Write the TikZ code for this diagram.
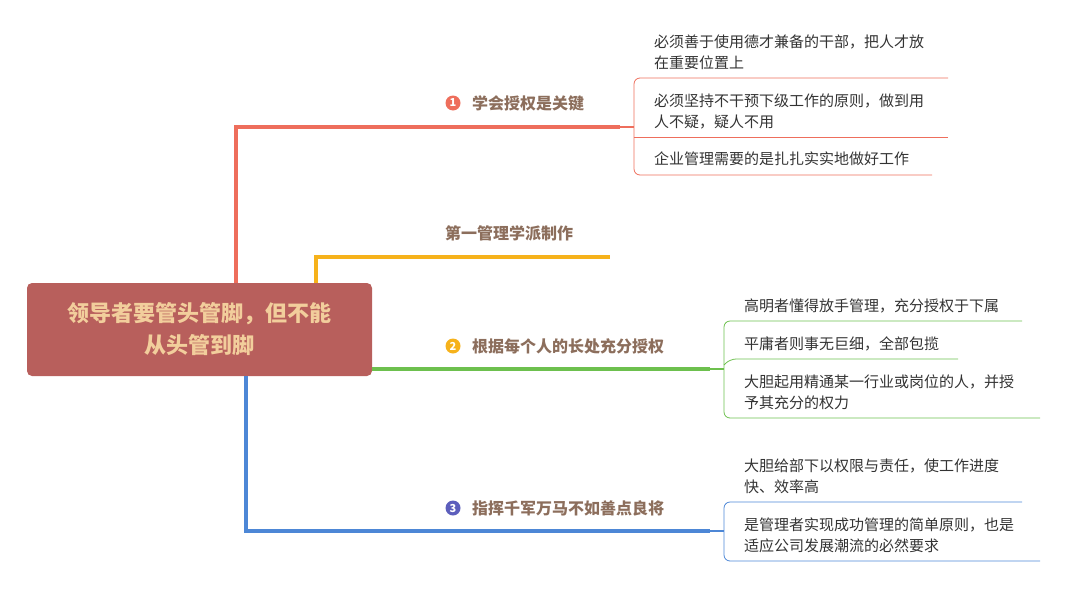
\documentclass[tikz,border=0pt]{standalone}
\usepackage{fontspec}
\setmainfont{Noto Sans CJK SC}
\newfontfamily\cjkb{Noto Sans CJK SC Bold}
\begin{document}
\begin{tikzpicture}[x=1pt,y=-1pt,
  br/.style={line width=4pt},
  lf/.style={line width=0.8pt,rounded corners=6pt},
  lbl/.style={anchor=west,font=\fontsize{16}{18}\selectfont\bfseries,text=brn,inner sep=0pt},
  leaf/.style={anchor=west,font=\fontsize{15}{21}\selectfont,text=txt,inner sep=0pt,align=left},
  num/.style={circle,inner sep=0pt,minimum size=15pt,text=white,font=\fontsize{11}{11}\selectfont\bfseries}]
\definecolor{cred}{HTML}{EE6E5C}
\definecolor{cora}{HTML}{F6B21B}
\definecolor{cgrn}{HTML}{6DC04E}
\definecolor{cblu}{HTML}{4D87D6}
\definecolor{brn}{HTML}{8C6E5C}
\definecolor{txt}{HTML}{333333}
\definecolor{ctr}{HTML}{B85F5C}
\definecolor{ctt}{HTML}{F2CE9C}
\useasboundingbox (0,0) rectangle (1070,597);
% central node
\node[fill=ctr,rounded corners=5pt,minimum width=345pt,minimum height=93pt,
  align=center,text=ctt,font=\fontsize{22}{32}\selectfont\bfseries] (c) at (199.5,329.5)
  {领导者要管头管脚，但不能\\从头管到脚};
% branches
\coordinate (r1) at (620,127);
\coordinate (o1) at (610,257);
\coordinate (g1) at (710,369);
\coordinate (b1) at (710,531);
\draw[br,cred] (236,283) -- (236,127) -- (r1);
\draw[br,cora] (316,283) -- (316,257) -- (o1);
\draw[br,cgrn] (372,369) -- (g1);
\draw[br,cblu] (246,376) -- (246,531) -- (b1);
% labels
\node[num,fill=cred] (n1) at (453,103) {1};
\node[lbl] (l1) at (472,103) {学会授权是关键};
\node[lbl] (l2) at (445,233) {第一管理学派制作};
\node[num,fill=cora] (n2) at (453,346) {2};
\node[lbl] (l3) at (472,346) {根据每个人的长处充分授权};
\node[num,fill=cblu!70!violet] (n3) at (453,508) {3};
\node[lbl] (l4) at (472,508) {指挥千军万马不如善点良将};
% red leaves
\draw[cred,line width=1.5pt] (r1) -- (634,127);
\draw[lf,cred] (948,78) -- (634,78) -- (634,175) -- (932,175);
\draw[cred,line width=0.8pt] (634,137) -- (948,137);
\node[leaf] (a1) at (654,52) {必须善于使用德才兼备的干部，把人才放\\在重要位置上};
\node[leaf] (a2) at (654,111) {必须坚持不干预下级工作的原则，做到用\\人不疑，疑人不用};
\node[leaf] (a3) at (654,159) {企业管理需要的是扎扎实实地做好工作};
% green leaves
\draw[cgrn,line width=1.5pt] (g1) -- (724,369);
\draw[lf,cgrn] (1022,321) -- (724,321) -- (724,418) -- (1040,418);
\draw[lf,cgrn] (958,359) -- (730,359) -- (724,365);
\node[leaf] (g1a) at (744,306) {高明者懂得放手管理，充分授权于下属};
\node[leaf] (g2a) at (744,344) {平庸者则事无巨细，全部包揽};
\node[leaf] (g3a) at (744,392) {大胆起用精通某一行业或岗位的人，并授\\予其充分的权力};
% blue leaves
\draw[cblu,line width=1.5pt] (b1) -- (724,531);
\draw[lf,cblu] (1022,502) -- (724,502) -- (724,561) -- (1040,561);
\node[leaf] (b1a) at (744,476) {大胆给部下以权限与责任，使工作进度\\快、效率高};
\node[leaf] (b2a) at (744,535) {是管理者实现成功管理的简单原则，也是\\适应公司发展潮流的必然要求};
\end{tikzpicture}
\end{document}
